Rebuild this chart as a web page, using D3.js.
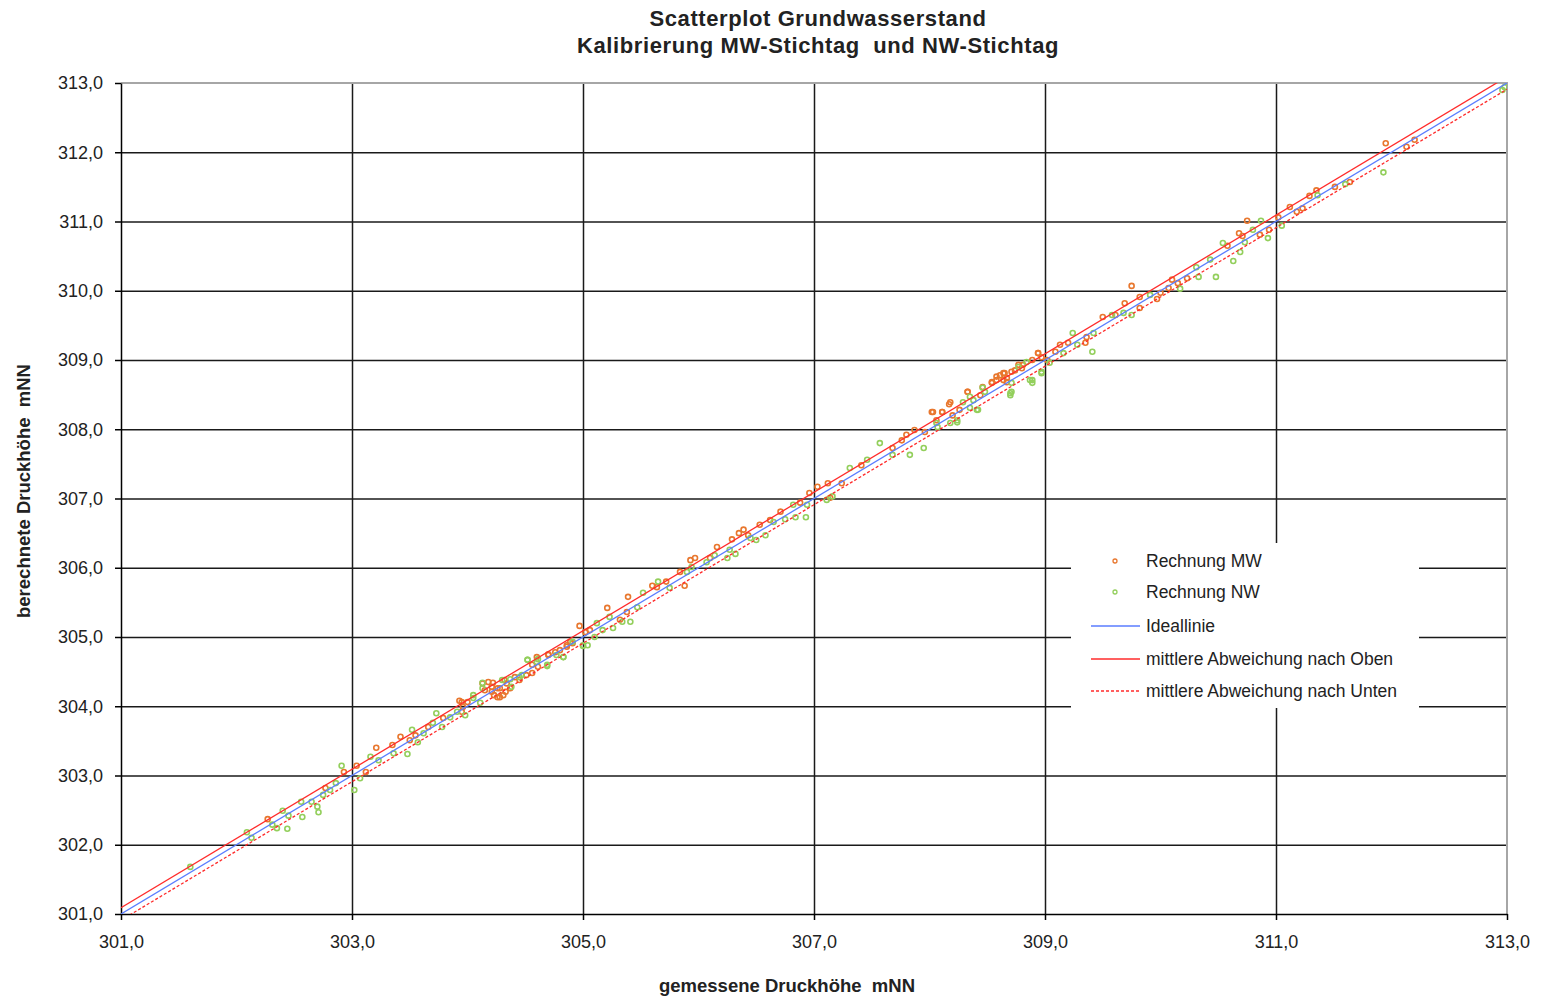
<!DOCTYPE html>
<html lang="de">
<head>
<meta charset="UTF-8">
<title>Scatterplot Grundwasserstand</title>
<script src="https://d3js.org/d3.v7.min.js"></script>
<style>
    body { margin: 0; background: #fff; }
    svg { font-family: "Liberation Sans", Arial, sans-serif; }
    .axis text { fill: #222; font-size: 18px; }
    .axis path, .axis line { stroke: #000; stroke-width: 1.5px; }
    .grid line { stroke: #1a1a1a; stroke-width: 1.5px; }
    .grid path { stroke-width: 0; }
</style>
</head>
<body>
<div id="chart"></div>
<script>
    // Rechnung MW (gemessen / berechnet)
    const mwMeasured = [302.27, 302.77, 302.93, 303.04, 303.12, 303.21, 303.35, 303.50, 303.42, 303.55,
        303.66, 303.79, 303.93, 303.95, 303.96, 304.13, 304.15, 304.18, 304.21, 304.23,
        304.26, 304.28, 304.31, 304.33, 304.34, 304.41, 304.45, 304.51, 304.56, 304.60,
        304.70, 304.76, 304.80, 304.86, 304.89, 304.97, 305.02, 305.06, 305.21, 305.32,
        305.39, 305.38, 305.60, 305.64, 305.72, 305.84, 305.88, 305.93, 305.97, 306.10,
        306.16, 306.29, 306.35, 306.39, 306.43, 306.53, 306.62, 306.71, 306.88, 306.96,
        307.03, 307.14, 307.12, 307.24, 307.41, 307.68, 307.76, 307.80, 307.87, 307.96,
        308.03, 308.06, 308.11, 308.17, 308.20, 308.26, 308.33, 308.44, 308.46, 308.54,
        308.58, 308.61, 308.64, 308.67, 308.65, 308.74, 308.81, 308.89, 308.94, 308.97,
        309.02, 309.09, 309.13, 309.20, 309.35, 309.36, 309.50, 309.61, 309.69, 309.75,
        309.82, 309.82, 309.97, 310.00, 310.07, 310.10, 310.15, 310.23, 310.58, 310.68,
        310.71, 310.75, 310.86, 310.94, 311.02, 311.12, 311.18, 311.23, 311.29, 311.35,
        311.51, 311.64, 311.95, 312.13, 312.20,
        304.22, 304.21, 304.26, 304.28, 304.37, 304.32, 304.56, 304.61, 304.70, 304.00,
        303.95, 304.86, 304.91, 308.64, 308.67, 308.58, 308.54, 308.71, 308.33, 308.18,
        308.11, 308.02, 308.77, 308.94, 308.80];
    const mwComputed = [302.37, 302.82, 303.05, 303.14, 303.05, 303.40, 303.44, 303.51, 303.56, 303.58,
        303.70, 303.83, 304.08, 303.92, 303.99, 304.33, 304.23, 304.35, 304.28, 304.16,
        304.13, 304.26, 304.16, 304.21, 304.33, 304.42, 304.38, 304.45, 304.48, 304.71,
        304.75, 304.78, 304.81, 304.88, 304.93, 305.16, 305.07, 305.10, 305.42, 305.25,
        305.58, 305.36, 305.74, 305.72, 305.80, 305.94, 305.74, 306.11, 306.14, 306.14,
        306.30, 306.41, 306.50, 306.55, 306.47, 306.62, 306.69, 306.81, 306.94, 307.08,
        307.17, 307.01, 307.22, 307.22, 307.48, 307.73, 307.84, 307.92, 307.99, 307.96,
        308.25, 308.13, 308.25, 308.36, 308.20, 308.28, 308.54, 308.49, 308.61, 308.67,
        308.71, 308.78, 308.71, 308.68, 308.81, 308.85, 308.93, 309.00, 309.10, 309.04,
        309.00, 309.12, 309.22, 309.25, 309.25, 309.33, 309.62, 309.65, 309.82, 310.07,
        309.91, 309.75, 309.88, 309.97, 310.04, 310.16, 310.11, 310.18, 310.65, 310.83,
        310.79, 311.01, 310.81, 310.88, 311.06, 311.21, 311.14, 311.19, 311.37, 311.45,
        311.50, 311.57, 312.13, 312.08, 312.18,
        304.34, 304.21, 304.26, 304.13, 304.26, 304.38, 304.60, 304.57, 304.74, 304.06,
        304.06, 304.86, 304.91, 308.81, 308.74, 308.76, 308.68, 308.83, 308.54, 308.39,
        308.25, 308.25, 308.93, 309.10, 308.88];

    // Rechnung NW (gemessen / berechnet)
    const nwMeasured = [301.60, 302.09, 302.13, 302.31, 302.35, 302.40, 302.44, 302.45, 302.57, 302.56,
        302.65, 302.70, 302.71, 302.75, 302.81, 302.86, 302.91, 303.02, 303.07, 303.16,
        303.23, 303.36, 303.48, 303.57, 303.52, 303.62, 303.70, 303.73, 303.78, 303.85,
        303.91, 303.98, 304.05, 304.11, 304.13, 304.30, 304.38, 304.37, 304.47, 304.52,
        304.61, 304.69, 304.77, 304.83, 304.91, 305.00, 305.04, 305.10, 305.12, 305.17,
        305.23, 305.26, 305.34, 305.41, 305.47, 305.52, 305.65, 305.75, 305.90, 305.94,
        306.07, 306.14, 306.25, 306.27, 306.32, 306.45, 306.50, 306.58, 306.65, 306.75,
        306.82, 306.84, 306.93, 306.94, 307.11, 307.16, 307.31, 307.46, 307.57, 307.68,
        307.83, 307.95, 308.07, 308.18, 308.24, 308.29, 308.35, 308.38, 308.41, 308.48,
        308.71, 308.70, 308.77, 308.87, 308.89, 308.97, 309.04, 309.16, 309.24, 309.28,
        309.41, 309.42, 309.58, 309.68, 309.75, 309.91, 310.17, 310.31, 310.33, 310.43,
        310.48, 310.54, 310.63, 310.69, 310.73, 310.80, 310.87, 310.93, 311.05, 311.36,
        311.60, 311.93, 312.96, 312.98,
        304.13, 304.05, 304.52, 304.45, 304.69, 304.83, 305.00, 304.60, 308.46, 308.70,
        308.71, 308.89, 308.97, 308.42, 308.24, 308.84, 308.35, 308.06];
    const nwComputed = [301.68, 302.18, 302.10, 302.29, 302.24, 302.49, 302.23, 302.42, 302.40, 302.62,
        302.62, 302.55, 302.47, 302.72, 302.79, 302.89, 303.14, 302.79, 302.96, 303.27,
        303.22, 303.32, 303.31, 303.48, 303.66, 303.61, 303.76, 303.90, 303.70, 303.84,
        303.92, 303.87, 304.12, 304.05, 304.26, 304.38, 304.28, 304.39, 304.45, 304.67,
        304.68, 304.58, 304.74, 304.71, 304.93, 304.87, 304.88, 305.00, 305.20, 305.10,
        305.29, 305.13, 305.22, 305.22, 305.43, 305.64, 305.80, 305.71, 305.94, 306.01,
        306.08, 306.18, 306.14, 306.26, 306.20, 306.43, 306.40, 306.47, 306.66, 306.70,
        306.91, 306.73, 306.73, 306.91, 306.98, 307.03, 307.44, 307.56, 307.80, 307.63,
        307.63, 307.73, 308.03, 308.09, 308.13, 308.39, 308.31, 308.42, 308.28, 308.54,
        308.54, 308.49, 308.90, 308.71, 308.67, 308.81, 308.96, 309.10, 309.39, 309.22,
        309.12, 309.39, 309.65, 309.68, 309.65, 309.94, 310.03, 310.34, 310.20, 310.45,
        310.20, 310.69, 310.43, 310.56, 310.70, 310.88, 311.01, 310.76, 310.94, 311.38,
        311.54, 311.71, 312.90, 312.94,
        304.34, 304.16, 304.67, 304.42, 304.60, 304.71, 304.88, 304.64, 308.60, 308.52,
        308.67, 308.71, 308.83, 308.28, 308.10, 308.97, 308.47, 308.09];

    // Ideallinie und mittlere Abweichung
    const lineEnds = [301, 313];
    const meanDeviation = 0.09;

    const xTicks = [301, 303, 305, 307, 309, 311, 313];
    const yTicks = [301, 302, 303, 304, 305, 306, 307, 308, 309, 310, 311, 312, 313];

    const legendLabels = ["Rechnung MW", "Rechnung NW", "Ideallinie",
        "mittlere Abweichung nach Oben", "mittlere Abweichung nach Unten"];

    const W = 1542, H = 998;
    const margin = { top: 83, right: 35, bottom: 84, left: 121 },
        width = W - margin.left - margin.right,
        height = H - margin.top - margin.bottom;

    const orange = "#E8772E", green = "#93CF5C", blue = "#5A7DFF", red = "#FF2B2B";

    const root = d3.select("#chart").append("svg")
        .attr("width", W)
        .attr("height", H);

    const svg = root.append("g")
        .attr("transform", `translate(${margin.left}, ${margin.top})`);

    const x = d3.scaleLinear().domain([301, 313]).range([0, width]);
    const y = d3.scaleLinear().domain([301, 313]).range([height, 0]);

    const fmt = d => d3.format(".1f")(d).replace(".", ",");

    // gridlines
    svg.append("g")
        .attr("class", "grid")
        .call(d3.axisLeft(y).tickValues(yTicks.slice(1, -1)).tickSize(-width).tickFormat(""));
    svg.append("g")
        .attr("class", "grid")
        .attr("transform", `translate(0, ${height})`)
        .call(d3.axisBottom(x).tickValues(xTicks.slice(1, -1)).tickSize(-height).tickFormat(""));

    // top and right frame
    svg.append("path")
        .attr("d", `M0,0H${width}V${height}`)
        .attr("fill", "none")
        .attr("stroke", "#a6a6a6")
        .attr("stroke-width", 2);

    // axes
    svg.append("g")
        .attr("class", "axis")
        .call(d3.axisLeft(y).tickValues(yTicks).tickSize(6).tickSizeOuter(0).tickPadding(12).tickFormat(fmt));
    svg.append("g")
        .attr("class", "axis")
        .attr("transform", `translate(0, ${height})`)
        .call(d3.axisBottom(x).tickValues(xTicks).tickSize(6).tickSizeOuter(0).tickPadding(15).tickFormat(fmt));

    svg.append("clipPath").attr("id", "plot")
        .append("rect").attr("width", width).attr("height", height);

    const plot = svg.append("g").attr("clip-path", "url(#plot)");

    // points
    const mwData = mwMeasured.map((v, i) => [v, mwComputed[i]]);
    const nwData = nwMeasured.map((v, i) => [v, nwComputed[i]]);

    plot.selectAll(".mw")
        .data(mwData).enter()
        .append("circle")
        .attr("class", "mw")
        .attr("cx", d => x(d[0]))
        .attr("cy", d => y(d[1]))
        .attr("r", 2.5)
        .attr("fill", "none")
        .attr("stroke", orange)
        .attr("stroke-width", 1.6);

    plot.selectAll(".nw")
        .data(nwData).enter()
        .append("circle")
        .attr("class", "nw")
        .attr("cx", d => x(d[0]))
        .attr("cy", d => y(d[1]))
        .attr("r", 2.5)
        .attr("fill", "none")
        .attr("stroke", green)
        .attr("stroke-width", 1.6);

    // lines
    const line = off => d3.line()
        .x(d => x(d))
        .y(d => y(d + off))(lineEnds);

    plot.append("path").attr("d", line(0))
        .attr("fill", "none").attr("stroke", blue).attr("stroke-width", 1.3);
    plot.append("path").attr("d", line(meanDeviation))
        .attr("fill", "none").attr("stroke", red).attr("stroke-width", 1.3);
    plot.append("path").attr("d", line(-meanDeviation))
        .attr("fill", "none").attr("stroke", red).attr("stroke-width", 1.3)
        .attr("stroke-dasharray", "3,2");

    // legend
    const legend = root.append("g").attr("transform", "translate(1071, 543)");
    legend.append("rect")
        .attr("width", 348)
        .attr("height", 165)
        .attr("fill", "#fff");

    const rowY = [18, 49, 83, 116, 148];
    legendLabels.forEach((label, i) => {
        const g = legend.append("g").attr("transform", `translate(0, ${rowY[i]})`);
        if (i < 2) {
            g.append("circle")
                .attr("cx", 44).attr("cy", 0).attr("r", 2)
                .attr("fill", "none")
                .attr("stroke", i === 0 ? orange : green)
                .attr("stroke-width", 1.3);
        } else {
            g.append("line")
                .attr("x1", 20).attr("x2", 69)
                .attr("stroke", i === 2 ? blue : red)
                .attr("stroke-width", 1.3)
                .attr("stroke-dasharray", i === 4 ? "3,2" : null);
        }
        g.append("text")
            .attr("x", 75).attr("y", 0)
            .attr("dy", "0.35em")
            .attr("font-size", 17.5)
            .attr("fill", "#222")
            .text(label);
    });

    // titles
    root.append("text")
        .attr("x", 818).attr("y", 26)
        .attr("text-anchor", "middle")
        .attr("font-size", 22).attr("font-weight", "bold").attr("fill", "#222")
        .attr("letter-spacing", 0.6)
        .text("Scatterplot Grundwasserstand");
    root.append("text")
        .attr("x", 818).attr("y", 53)
        .attr("text-anchor", "middle")
        .attr("font-size", 22).attr("font-weight", "bold").attr("fill", "#222")
        .attr("letter-spacing", 0.6)
        .style("white-space", "pre")
        .text("Kalibrierung MW-Stichtag  und NW-Stichtag");

    root.append("text")
        .attr("x", 787).attr("y", 992)
        .attr("text-anchor", "middle")
        .attr("font-size", 18.5).attr("font-weight", "bold").attr("fill", "#222")
        .style("white-space", "pre")
        .text("gemessene Druckhöhe  mNN");
    root.append("text")
        .attr("transform", "translate(30, 491) rotate(-90)")
        .attr("text-anchor", "middle")
        .attr("font-size", 18.5).attr("font-weight", "bold").attr("fill", "#222")
        .style("white-space", "pre")
        .text("berechnete Druckhöhe  mNN");
</script>
</body>
</html>
